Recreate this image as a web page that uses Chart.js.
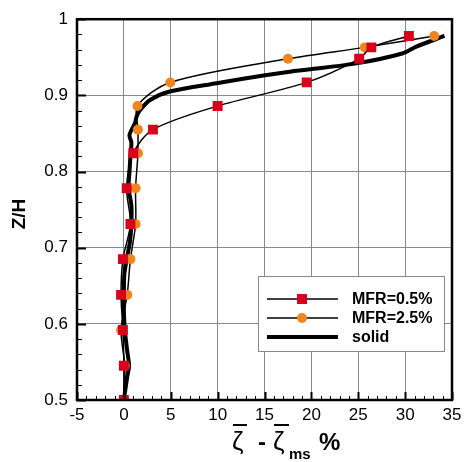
<!DOCTYPE html>
<html>
<head>
<meta charset="utf-8">
<script src="https://cdn.jsdelivr.net/npm/chart.js@4/dist/chart.umd.min.js"></script>
<style>
  html, body { margin: 0; padding: 0; background: #fff; }
  #wrap { width: 467px; height: 462px; }
</style>
</head>
<body>
<div id="wrap"><canvas id="c" width="467" height="462"></canvas></div>
<script>
// heights where the markers sit
const zLevels = [0.5, 0.545, 0.592, 0.638, 0.685, 0.731, 0.778, 0.824, 0.855, 0.886, 0.917, 0.948, 0.963, 0.978];
const mfr05 = [0, 0, -0.1, -0.3, -0.1, 0.7, 0.3, 1.0, 3.1, 10.0, 19.5, 25.1, 26.4, 30.4];
const mfr25 = [0, 0.1, -0.3, 0.35, 0.7, 1.25, 1.25, 1.5, 1.5, 1.45, 4.95, 17.5, 25.7, 33.1];

// solid curve (no markers)
const solidZ = [0.5, 0.53, 0.545, 0.565, 0.592, 0.617, 0.638, 0.665, 0.685, 0.708, 0.731, 0.756, 0.778, 0.8, 0.821, 0.838, 0.848, 0.864, 0.872, 0.881, 0.894, 0.905, 0.916, 0.926, 0.931, 0.942, 0.955, 0.964, 0.978];
const solidX = [0, 0.35, 0.55, 0.35, 0.1, 0, 0, 0.05, 0.3, 0.65, 0.8, 0.8, 0.5, 0.6, 0.7, 0.8, 0.6, 1.2, 1.35, 1.75, 2.8, 4.9, 9.9, 14.9, 17.7, 24.8, 29.7, 31.2, 34.2];

const xTicks = [-5, 0, 5, 10, 15, 20, 25, 30, 35];
const yTicks = [0.5, 0.6, 0.7, 0.8, 0.9, 1];
const legendLabels = ['MFR=0.5%', 'MFR=2.5%', 'solid'];

const RED = '#d9001b';
const ORANGE = '#f0841e';
const FONT = "'Liberation Sans', Arial, sans-serif";

const toPts = (xs, zs) => xs.map((v, i) => ({ x: v, y: zs[i] }));

const extras = {
  id: 'extras',
  afterDatasetsDraw(chart) {
    const ctx = chart.ctx;
    const ds = chart.data.datasets;
    ctx.save();
    // legend box
    ctx.fillStyle = '#fff';
    ctx.fillRect(258, 276, 187, 76);
    ctx.strokeStyle = '#888';
    ctx.lineWidth = 1;
    ctx.strokeRect(258.5, 276.5, 186, 75);
    const rows = [299, 318, 337];
    rows.forEach((ry, i) => {
      ctx.strokeStyle = '#000';
      ctx.lineWidth = ds[i].borderWidth;
      ctx.beginPath();
      ctx.moveTo(267, ry);
      ctx.lineTo(338, ry);
      ctx.stroke();
      if (i === 0) {
        ctx.fillStyle = RED;
        ctx.fillRect(297, ry - 5, 10, 10);
      } else if (i === 1) {
        ctx.fillStyle = ORANGE;
        ctx.beginPath();
        ctx.arc(302, ry, 5, 0, Math.PI * 2);
        ctx.fill();
      }
      ctx.fillStyle = '#000';
      ctx.font = 'bold 16px ' + FONT;
      ctx.textBaseline = 'middle';
      ctx.fillText(legendLabels[i], 352, ry + 1);
    });
    ctx.restore();
  },
  afterDraw(chart) {
    const { ctx, chartArea: a, scales: { x, y } } = chart;
    ctx.save();
    ctx.strokeStyle = '#000';
    // bottom ticks
    for (let v = -5; v <= 35; v++) {
      const px = Math.round(x.getPixelForValue(v)) + 0.5;
      const major = v % 5 === 0;
      ctx.lineWidth = major ? 2 : 1;
      ctx.beginPath();
      ctx.moveTo(px, a.bottom);
      ctx.lineTo(px, a.bottom - (major ? 8 : 4));
      ctx.stroke();
    }
    // left ticks
    for (let k = 25; k <= 50; k++) {
      const py = Math.round(y.getPixelForValue(k / 50)) + 0.5;
      const major = k % 5 === 0;
      ctx.lineWidth = major ? 2 : 1;
      ctx.beginPath();
      ctx.moveTo(a.left, py);
      ctx.lineTo(a.left + (major ? 9 : 5), py);
      ctx.stroke();
    }
    // frame
    ctx.lineWidth = 2.5;
    ctx.strokeRect(a.left, a.top, a.right - a.left, a.bottom - a.top);

    // y title
    ctx.fillStyle = '#000';
    ctx.font = 'bold 19px ' + FONT;
    ctx.textAlign = 'center';
    ctx.textBaseline = 'middle';
    ctx.save();
    ctx.translate(20, 214);
    ctx.rotate(-Math.PI / 2);
    ctx.fillText('Z/H', 0, 0);
    ctx.restore();

    // x title: overlined zeta minus overlined zeta_ms %
    ctx.textAlign = 'left';
    ctx.textBaseline = 'alphabetic';
    const base = 450;
    ctx.font = '26px ' + FONT;
    ctx.fillText('ζ', 232, base);
    ctx.fillText('ζ', 273, base);
    ctx.font = 'bold 24px ' + FONT;
    ctx.fillText('-', 258, base);
    ctx.fillText('%', 319, base);
    ctx.font = 'bold 15px ' + FONT;
    ctx.fillText('ms', 289, 459);
    ctx.lineWidth = 2;
    ctx.beginPath();
    ctx.moveTo(233, 425); ctx.lineTo(247, 425);
    ctx.moveTo(274, 425); ctx.lineTo(289, 425);
    ctx.stroke();
    ctx.restore();
  }
};

new Chart(document.getElementById('c'), {
  type: 'scatter',
  data: {
    datasets: [
      {
        label: legendLabels[0],
        data: toPts(mfr05, zLevels),
        showLine: true,
        borderColor: '#000',
        borderWidth: 1.5,
        tension: 0.3,
        pointStyle: 'rect',
        pointRadius: 7,
        pointBackgroundColor: RED,
        pointBorderColor: RED,
        pointBorderWidth: 0
      },
      {
        label: legendLabels[1],
        data: toPts(mfr25, zLevels),
        showLine: true,
        borderColor: '#000',
        borderWidth: 1.5,
        tension: 0.3,
        pointStyle: 'circle',
        pointRadius: 5,
        pointBackgroundColor: ORANGE,
        pointBorderColor: ORANGE,
        pointBorderWidth: 0
      },
      {
        label: legendLabels[2],
        data: toPts(solidX, solidZ),
        showLine: true,
        borderColor: '#000',
        borderWidth: 4,
        tension: 0.3,
        pointRadius: 0
      }
    ]
  },
  options: {
    responsive: false,
    animation: false,
    layout: { padding: { left: 0, right: 15, top: 15, bottom: 0 } },
    plugins: { legend: { display: false }, tooltip: { enabled: false } },
    scales: {
      x: {
        type: 'linear',
        min: -5,
        max: 35,
        afterFit: s => { s.height = 62; },
        afterBuildTicks: s => { s.ticks = xTicks.map(v => ({ value: v })); },
        grid: { color: '#888', lineWidth: 1, drawTicks: false },
        border: { display: false },
        ticks: { padding: 5, color: '#000', font: { family: FONT, size: 17 } }
      },
      y: {
        type: 'linear',
        min: 0.5,
        max: 1,
        afterFit: s => { s.width = 77; },
        afterBuildTicks: s => { s.ticks = yTicks.map(v => ({ value: v })); },
        grid: { color: '#888', lineWidth: 1, drawTicks: false },
        border: { display: false },
        ticks: { padding: 9, color: '#000', font: { family: FONT, size: 17 }, callback: v => String(v) }
      }
    }
  },
  plugins: [extras]
});
</script>
</body>
</html>
